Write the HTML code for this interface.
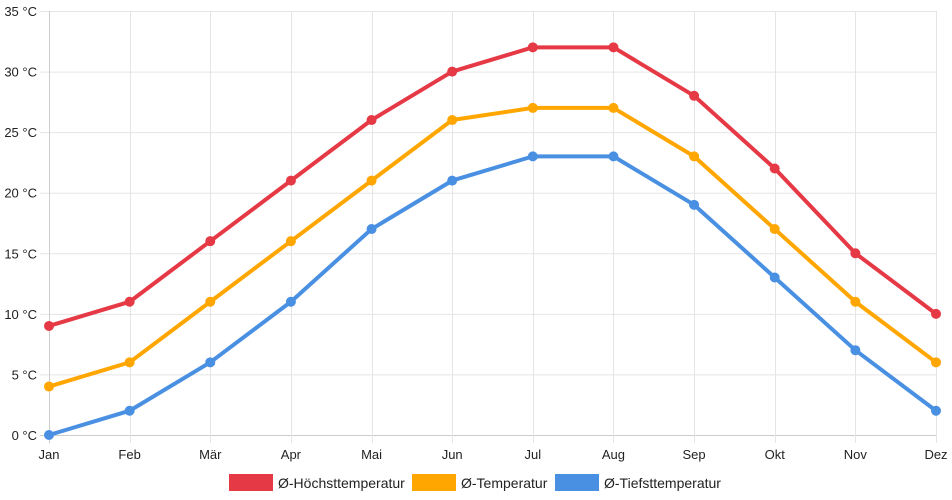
<!DOCTYPE html>
<html><head><meta charset="utf-8"><style>
body{margin:0;background:#fff;font-family:"Liberation Sans",sans-serif;}
</style></head><body>
<svg id="c" width="952" height="500" xmlns="http://www.w3.org/2000/svg" style="display:block"></svg>
<script>
const months=["Jan","Feb","Mär","Apr","Mai","Jun","Jul","Aug","Sep","Okt","Nov","Dez"];
const yTicks=[0,5,10,15,20,25,30,35];
const highs=[9,11,16,21,26,30,32,32,28,22,15,10];
const avgs=[4,6,11,16,21,26,27,27,23,17,11,6];
const lows=[0,2,6,11,17,21,23,23,19,13,7,2];
const seriesNames=["Ø-Höchsttemperatur","Ø-Temperatur","Ø-Tiefsttemperatur"];
const NS="http://www.w3.org/2000/svg";
const svg=document.getElementById('c');
const L=49,R=936,T=11,B=435;
const x=i=>L+i*(R-L)/(months.length-1);
const y=v=>B-(v-0)*(B-T)/35;
function mk(t,a,p){const e=document.createElementNS(NS,t);for(const k in a)e.setAttribute(k,a[k]);(p||svg).appendChild(e);return e;}
const grid=mk('g',{});


yTicks.forEach(v=>{
  mk('line',{x1:40,x2:R,y1:y(v)+.5,y2:y(v)+.5,stroke:v===0?'#ccc':'#e5e5e5','stroke-width':1},grid);
  const t=mk('text',{x:37,y:y(v)+5,'text-anchor':'end','font-size':13,fill:'#222'});
  t.textContent=v+' °C';
  
  
});
months.forEach((m,i)=>{
  mk('line',{x1:Math.round(x(i))+.5,x2:Math.round(x(i))+.5,y1:T,y2:B+8,stroke:i===0?'#ccc':'#e5e5e5','stroke-width':1},grid);
  const t=mk('text',{x:x(i),y:459,'text-anchor':'middle','font-size':13,fill:'#222'});
  t.textContent=m;
  
  
});
const colors=['#e63946','#ffa600','#4a90e2'];
[highs,avgs,lows].forEach((d,s)=>{
  const g=mk('g',{});
  
  
  mk('polyline',{points:d.map((v,i)=>x(i)+','+y(v)).join(' '),fill:'none',stroke:colors[s],'stroke-width':4,'stroke-linejoin':'round'},g);
  d.forEach((v,i)=>{
    const c=mk('circle',{cx:x(i),cy:y(v),r:5,fill:colors[s]},g);
    
    
  });
});
const boxX=[229,412,555];
seriesNames.forEach((n,s)=>{
  const g=mk('g',{});
  
  
  mk('rect',{x:boxX[s],y:474,width:44,height:17,fill:colors[s]},g);
  const t=mk('text',{x:boxX[s]+49,y:488,'font-size':14,fill:'#222'},g);
  t.textContent=n;
});
</script>
</body></html>
